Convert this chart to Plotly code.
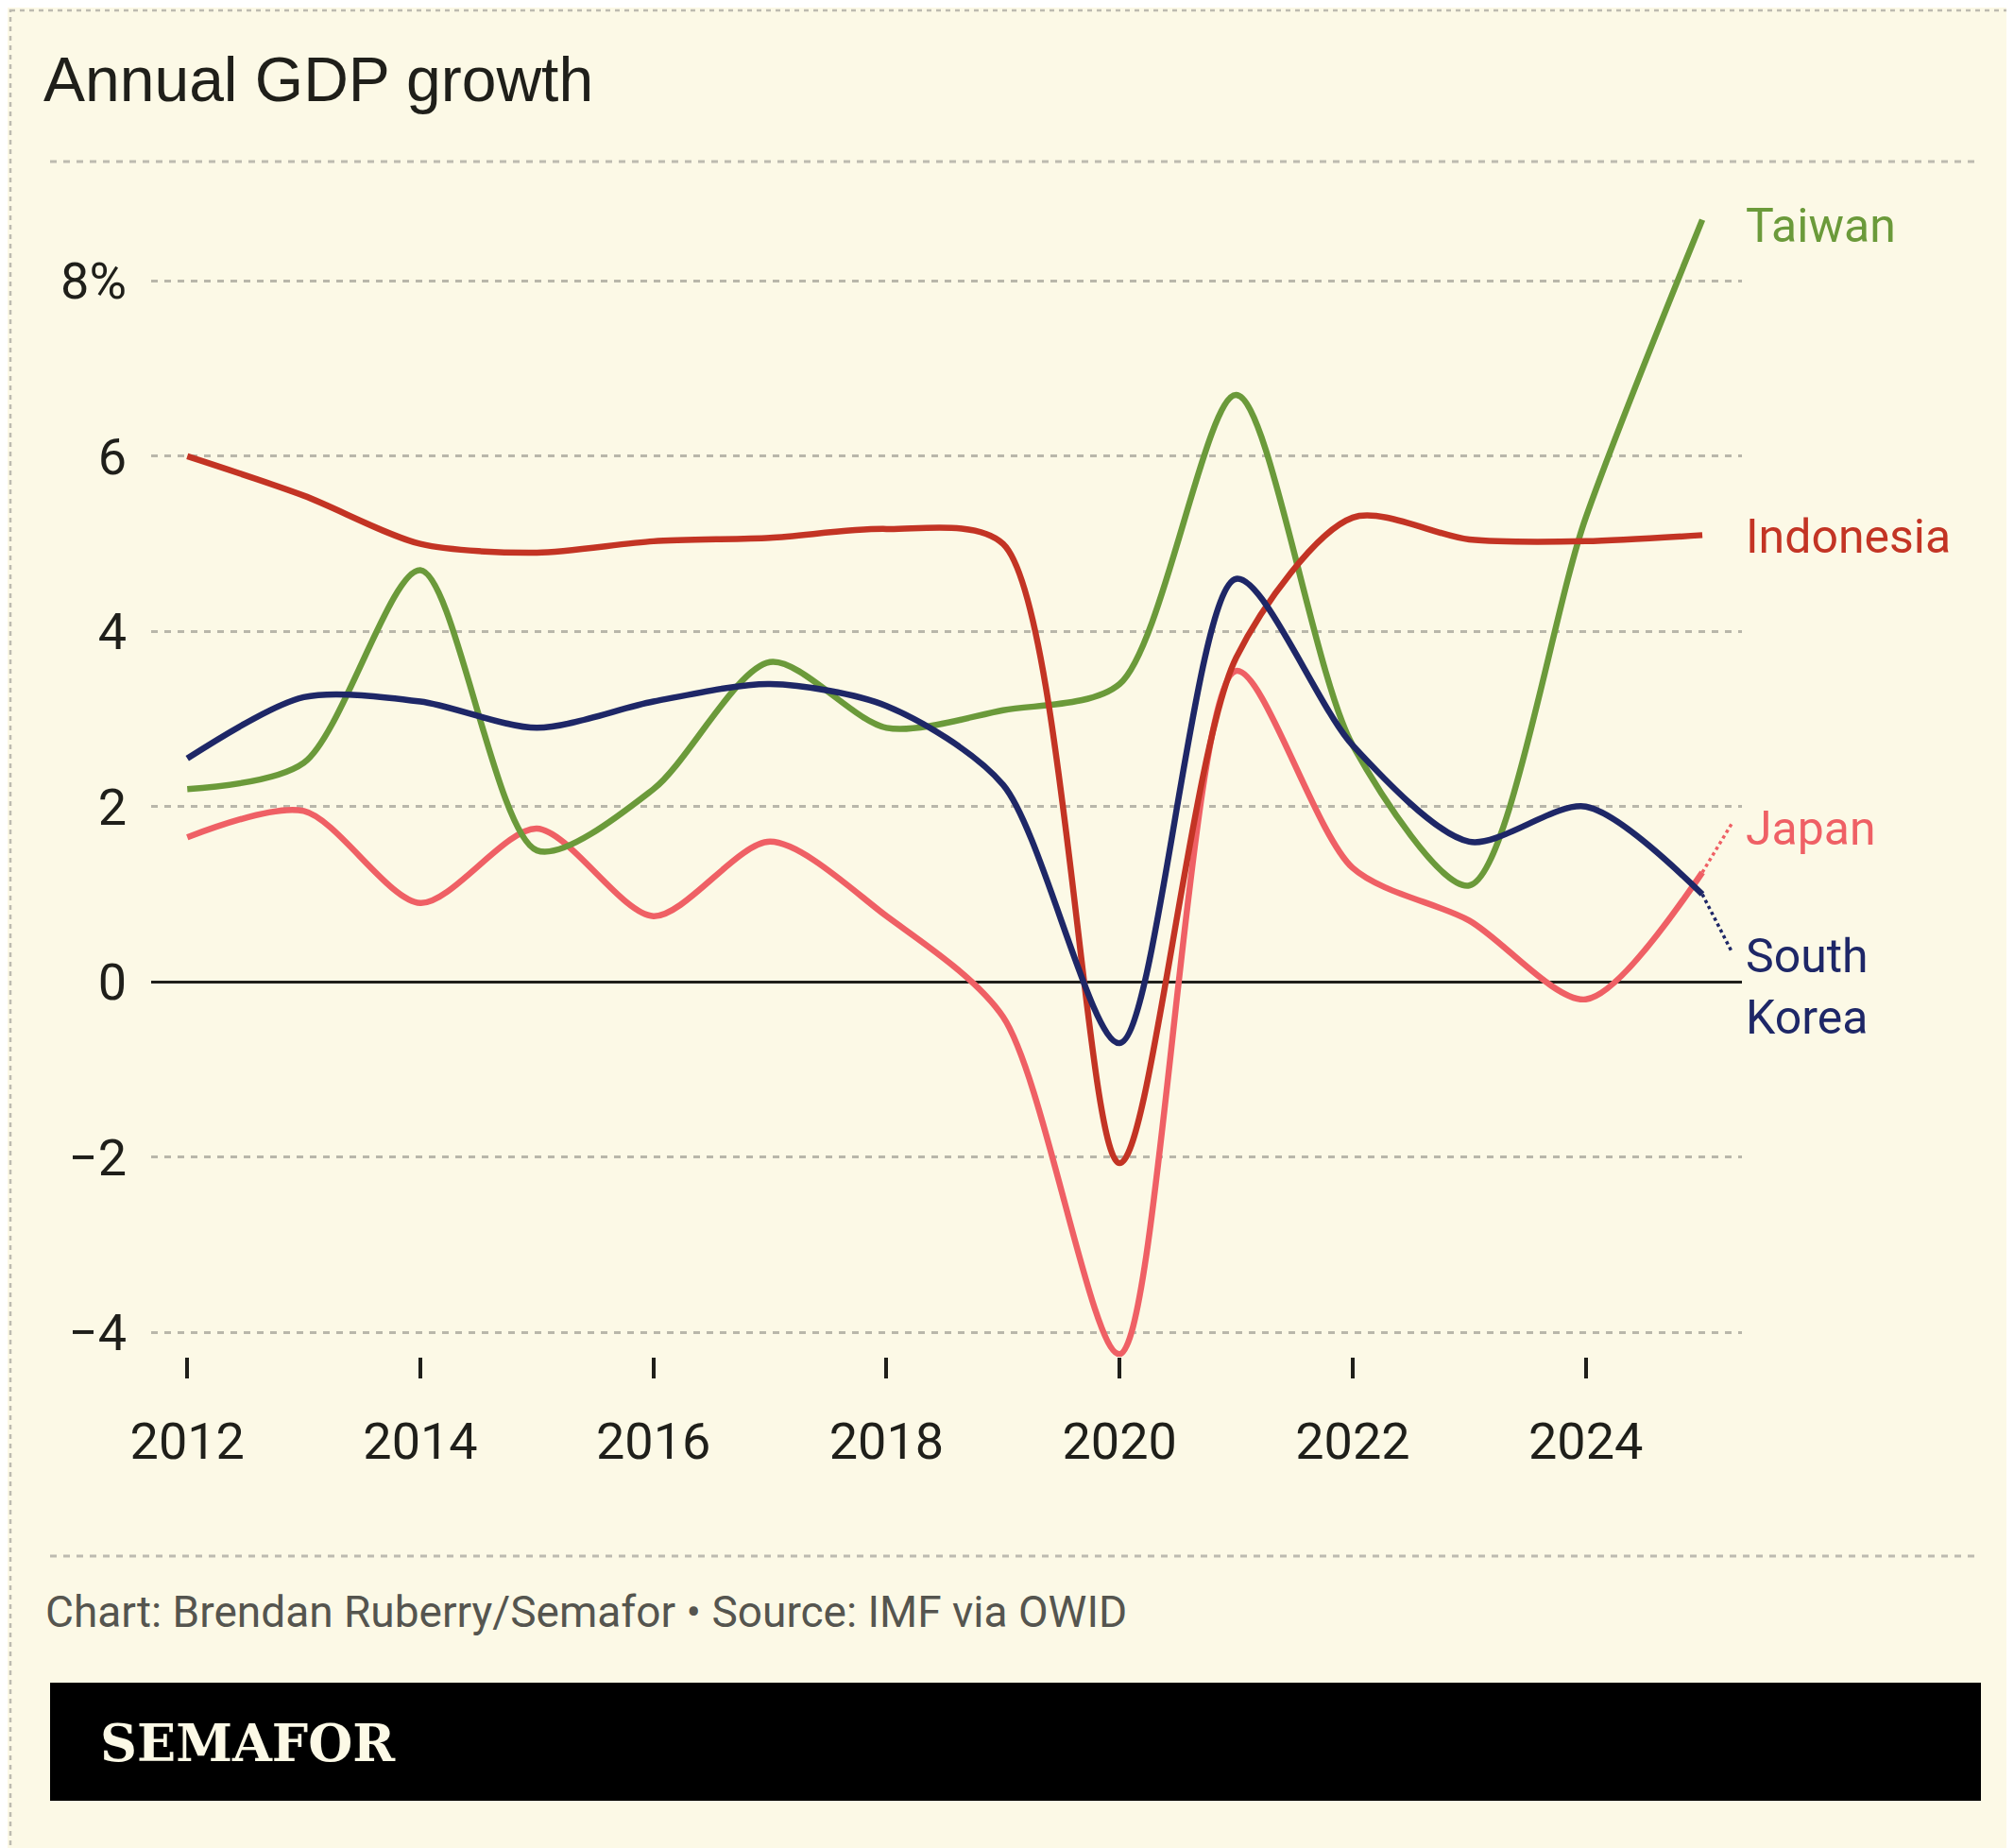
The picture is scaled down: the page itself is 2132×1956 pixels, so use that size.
import plotly.graph_objects as go

years = list(range(2012, 2026))
taiwan = [2.2, 2.5, 4.7, 1.5, 2.2, 3.65, 2.9, 3.1, 3.4, 6.7, 2.7, 1.1, 5.3, 8.7]
indonesia = [6.0, 5.55, 5.0, 4.9, 5.03, 5.07, 5.17, 5.0, -2.07, 3.7, 5.3, 5.05, 5.03, 5.1]
korea = [2.55, 3.25, 3.2, 2.9, 3.2, 3.4, 3.15, 2.25, -0.7, 4.6, 2.7, 1.6, 2.0, 1.0]
japan = [1.65, 1.95, 0.9, 1.75, 0.75, 1.6, 0.75, -0.4, -4.25, 3.55, 1.3, 0.7, -0.2, 1.25]
proj_x = [2025, 2025.25]
korea_proj = [1.0, 0.35]
japan_proj = [1.25, 1.8]

colors = {"Taiwan": "#6b9a3a", "Indonesia": "#c33424", "Japan": "#ef6065", "South Korea": "#1e2767"}
BG = "#fcf9e6"
W, H = 2132, 1956
L, R, T, B = 152, 1836, 169, 1428


def px(x):
    return (x - L) / (R - L)


def py(y):
    return (B - y) / (B - T)


fig = go.Figure()
for name, vals in [("Japan", japan), ("Taiwan", taiwan), ("Indonesia", indonesia), ("South Korea", korea)]:
    fig.add_trace(go.Scatter(x=years, y=vals, mode="lines", name=name,
                             line=dict(color=colors[name], width=6.5, shape="spline", smoothing=0.8),
                             cliponaxis=False))
fig.add_trace(go.Scatter(x=proj_x, y=korea_proj, mode="lines",
                         line=dict(color=colors["South Korea"], width=3.5, dash="dot"), cliponaxis=False))
fig.add_trace(go.Scatter(x=proj_x, y=japan_proj, mode="lines",
                         line=dict(color=colors["Japan"], width=3.5, dash="dot"), cliponaxis=False))

tick_font = dict(family="Roboto", size=54, color="#1f1f1a")
fig.update_layout(
    width=W, height=H, showlegend=False,
    paper_bgcolor=BG, plot_bgcolor=BG,
    margin=dict(l=L, r=W - R, t=T, b=H - B),
    xaxis=dict(range=[2011.69, 2025.34], tickvals=list(range(2012, 2025, 2)),
               showgrid=False, zeroline=False, showline=False,
               ticks="outside", ticklen=22, tickwidth=4, tickcolor="#1f1f1a",
               tickfont=tick_font, ticklabelstandoff=20),
    yaxis=dict(range=[-4.28, 9.3], tickvals=[-4, -2, 0, 2, 4, 6, 8],
               ticktext=["\u22124", "\u22122", "0", "2", "4", "6", "8%"],
               showgrid=True, gridcolor="#b9b7aa", griddash="7px,7px", gridwidth=2.5,
               zeroline=True, zerolinecolor="#1f1f1a", zerolinewidth=2.5,
               tickfont=tick_font, ticklabelstandoff=25),
)

dash = dict(color="#bdbbb0", width=3, dash="7px,7px")
shapes = [
    dict(type="rect", xref="paper", yref="paper", x0=px(3), x1=px(W - 3), y0=py(3), y1=py(H - 3),
         line=dict(color="#bdbbb0", width=2.5, dash="5px,5px")),
    dict(type="line", xref="paper", yref="paper", x0=px(45), x1=px(2089), y0=py(163), y1=py(163), line=dash),
    dict(type="line", xref="paper", yref="paper", x0=px(45), x1=px(2089), y0=py(1639), y1=py(1639), line=dash),
    dict(type="rect", xref="paper", yref="paper", x0=px(45), x1=px(2089), y0=py(1773), y1=py(1898),
         fillcolor="black", line=dict(width=0)),
]
fig.update_layout(shapes=shapes)

ann = [
    dict(text="Annual GDP growth", x=px(36), y=py(76), font=dict(family="Liberation Sans", size=66, color="#1f1f1a")),
    dict(text="Chart: Brendan Ruberry/Semafor \u2022 Source: IMF via OWID", x=px(38), y=py(1698),
         font=dict(family="Roboto", size=46, color="#55554f")),
    dict(text="<b>SEMAFOR</b>", x=px(96), y=py(1837),
         font=dict(family="DejaVu Serif", size=54, color="#fcf9e6")),
    dict(text="Taiwan", x=px(1838), y=py(231), font=dict(family="Roboto", size=50, color=colors["Taiwan"])),
    dict(text="Indonesia", x=px(1838), y=py(560), font=dict(family="Roboto", size=50, color=colors["Indonesia"])),
    dict(text="Japan", x=px(1838), y=py(869), font=dict(family="Roboto", size=50, color=colors["Japan"])),
    dict(text="South<br>Korea", x=px(1838), y=py(1036), font=dict(family="Roboto", size=50, color=colors["South Korea"])),
]
for a in ann:
    fig.add_annotation(xref="paper", yref="paper", xanchor="left", yanchor="middle", showarrow=False,
                       align="left", **a)

fig.write_html("out.html")
